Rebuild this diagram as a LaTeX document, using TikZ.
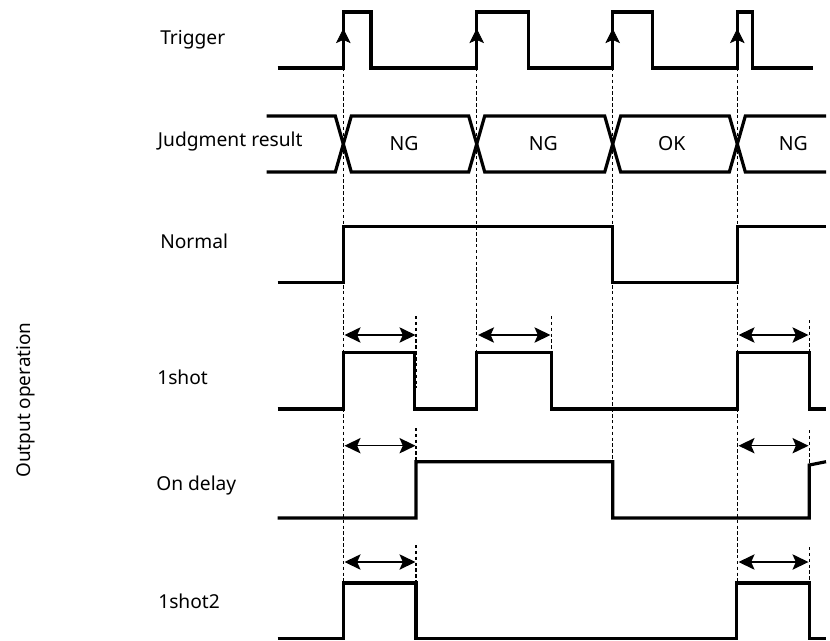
\documentclass[tikz,border=0pt]{standalone}
\usepackage{fontspec}
\setmainfont{Noto Sans}
\usetikzlibrary{arrows.meta}
\begin{document}
\begin{tikzpicture}[x=0.75pt,y=-0.75pt,
  signal/.style={line width=2.4pt,line join=miter},
  guide/.style={line width=1.05pt,dash pattern=on 2.6pt off 1.8pt},
  span/.style={line width=1.1pt,{Stealth[length=12pt,width=11.5pt,inset=2.5pt]}-{Stealth[length=12pt,width=11.5pt,inset=2.5pt]}},
  edgetip/.style={line width=0.5pt,-{Stealth[length=11pt,width=11pt,inset=2.5pt]}},
  lbl/.style={inner sep=0pt,anchor=base west,font=\fontsize{14.4pt}{17pt}\selectfont},
  val/.style={inner sep=0pt,anchor=base,font=\fontsize{14.6pt}{17pt}\selectfont}]
\useasboundingbox (0,0) rectangle (830,640);

% labels
\node[lbl] (tTrig) at (160,44.3) {Trigger};
\node[lbl] (tJudge) at (157.7,146.7) {Judgment result};
\node[lbl] (tNorm) at (160,248.3) {Normal};
\node[lbl] (tOne) at (157,384.3) {1shot};
\node[lbl] (tDelay) at (156,490.7) {On delay};
\node[lbl] (tTwo) at (158,608.3) {1shot2};
\node[inner sep=0pt,anchor=base,rotate=90,font=\fontsize{14.2pt}{17pt}\selectfont] (tOut) at (30,400) {Output operation};

% judgment values
\node[val] (v1) at (404,150) {NG};
\node[val] (v2) at (543.3,150) {NG};
\node[val] (v3) at (671.7,150) {OK};
\node[val] (v4) at (793.3,150) {NG};

% guide lines
\draw[guide] (343.3,68) -- (343.3,583);
\draw[guide] (476.7,68) -- (476.7,352.7);
\draw[guide] (612.7,68) -- (612.7,461.7);
\draw[guide] (737.3,68) -- (737.3,583);
\draw[guide] (416,316) -- (416,388);
\draw[guide] (416,428) -- (416,462);
\draw[guide] (416,545) -- (416,583);
\draw[guide] (551.7,316) -- (551.7,352.7);
\draw[guide] (809.3,320) -- (809.3,352.7);
\draw[guide] (809.3,430) -- (809.3,465);
\draw[guide] (809.3,547) -- (809.3,583);

% Trigger
\draw[signal] (277.7,68) -- (343.3,68) -- (343.3,12) -- (371,12) -- (371,68)
  -- (476.7,68) -- (476.7,12) -- (528.3,12) -- (528.3,68)
  -- (612.7,68) -- (612.7,12) -- (652.7,12) -- (652.7,68)
  -- (737.3,68) -- (737.3,12) -- (752.7,12) -- (752.7,68) -- (813.3,68);
\foreach \e in {343.3,476.7,612.7,737.3}
  \draw[edgetip] (\e,45) -- (\e,28.5);

% Judgment result
\def\d{8}
\draw[signal] (266.7,116) -- (343.3-\d,116) -- (343.3+\d,172) -- (476.7-\d,172)
  -- (476.7+\d,116) -- (612.7-\d,116) -- (612.7+\d,172) -- (737.3-\d,172)
  -- (737.3+\d,116) -- (826,116);
\draw[signal] (266.7,172) -- (343.3-\d,172) -- (343.3+\d,116) -- (476.7-\d,116)
  -- (476.7+\d,172) -- (612.7-\d,172) -- (612.7+\d,116) -- (737.3-\d,116)
  -- (737.3+\d,172) -- (826,172);

% Normal
\draw[signal] (277.7,282.7) -- (343.3,282.7) -- (343.3,226.7) -- (612.7,226.7)
  -- (612.7,282.7) -- (737.3,282.7) -- (737.3,226.7) -- (826,226.7);

% 1shot
\draw[signal] (277.7,409) -- (343.3,409) -- (343.3,352.7) -- (414.3,352.7) -- (414.3,409)
  -- (476.7,409) -- (476.7,352.7) -- (551.7,352.7) -- (551.7,409)
  -- (737.3,409) -- (737.3,352.7) -- (809.3,352.7) -- (809.3,409) -- (826,409);
\draw[span] (344.5,335) -- (415.5,335);
\draw[span] (478,335) -- (550.5,335);
\draw[span] (738.5,335) -- (808.5,335);

% On delay
\draw[signal] (277.7,518) -- (416,518) -- (416,461.7) -- (612.7,461.7)
  -- (612.7,518) -- (809.3,518) -- (809.3,465) -- (826,461.7);
\draw[span] (344.5,445.7) -- (415.5,445.7);
\draw[span] (738.5,445.7) -- (808.5,445.7);

% 1shot2
\draw[signal] (277.7,638.3) -- (343.3,638.3) -- (343.3,583) -- (416,583) -- (416,638.3)
  -- (736.7,638.3) -- (736.7,583) -- (809.3,583) -- (809.3,638.3) -- (826,638.3);
\draw[span] (344.5,562) -- (415.5,562);
\draw[span] (738.5,562) -- (808.5,562);
\end{tikzpicture}
\end{document}
